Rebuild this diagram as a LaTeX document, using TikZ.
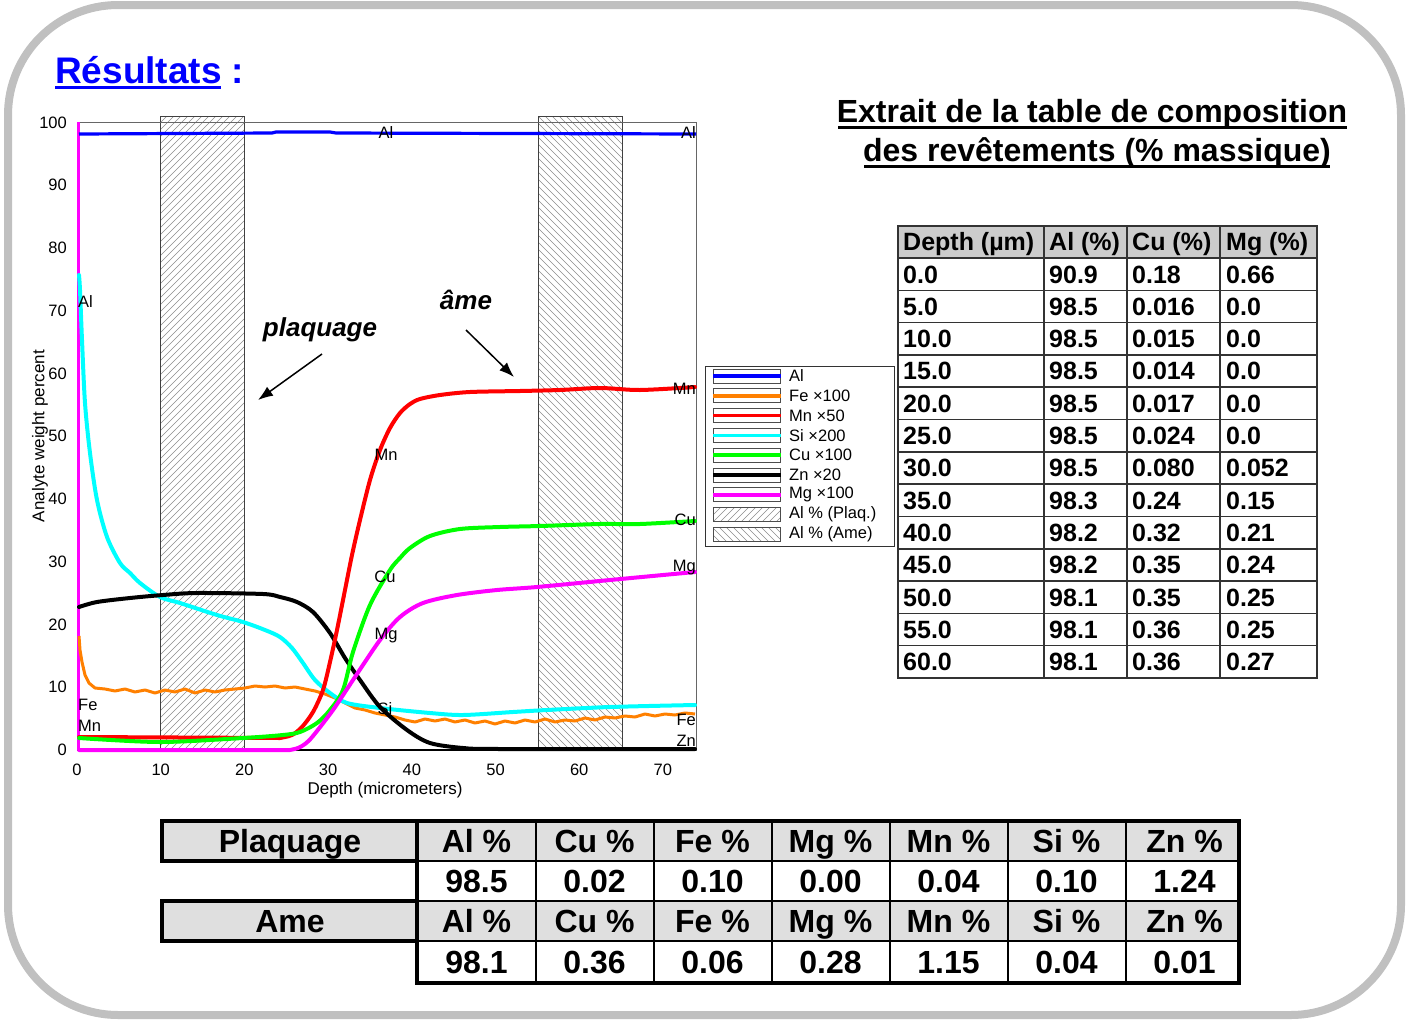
\documentclass[tikz,border=0pt]{standalone}
\usepackage{fontspec}
\setmainfont{Liberation Sans}
\usetikzlibrary{arrows.meta}
\newcommand\myfs[1]{\fontsize{#1}{#1}\selectfont}
\definecolor{feorange}{HTML}{FF8000}
\definecolor{framegray}{HTML}{C0C0C0}
\definecolor{hatchgray}{HTML}{8C8C8C}
\definecolor{alblue}{HTML}{0000FF}
\definecolor{sicyan}{HTML}{00FFFF}
\definecolor{mgmag}{HTML}{FF00FF}
\definecolor{cugreen}{HTML}{00FF00}
\definecolor{mnred}{HTML}{FF0000}
\begin{document}
\begin{tikzpicture}[x=1pt,y=-1pt,
  hatchln/.style={hatchgray,line width=0.6},
  hbox/.style={draw=black!75,line width=0.9},
  curve/.style={line width=4,line join=round,line cap=round},
  ticklbl/.style={font=\myfs{16.5},inner sep=0},
  plbl/.style={font=\myfs{16.5},inner sep=0},
  legtxt/.style={font=\myfs{16.5},inner sep=0,anchor=west},
  tline/.style={black!80,line width=1.6},
  tcell/.style={font=\myfs{25}\bfseries,inner sep=0,anchor=base west},
  bcell/.style={font=\myfs{32}\bfseries,inner sep=0,anchor=base},
  thickln/.style={black,line width=4},
  thinln/.style={black,line width=2},
  anno/.style={font=\myfs{26}\bfseries\itshape,inner sep=0},
  annoarrow/.style={line width=1.5,-{Latex[length=15,width=11]}}
]
\useasboundingbox (0,0) rectangle (1409,1020);
\fill[white] (0,0) rectangle (1409,1020);
\draw[framegray,line width=8,rounded corners=110] (8,5) rectangle (1401,1015);

% Title
\node[anchor=base west,inner sep=0,text=alblue,font=\myfs{37}\bfseries] (title) at (55,83) {Résultats :};
\draw[alblue,line width=3] (55,87.5) -- (221,87.5);

% ---------- chart ----------
\begin{scope}
\clip (160,116) rectangle (244,750);
\foreach \c in {276,283,...,1000} \draw[hatchln] (\c-750,750) -- (\c-116,116);
\end{scope}
\draw[hbox] (160,116) rectangle (244,750);
\begin{scope}
\clip (538,116) rectangle (622,750);
\foreach \c in {-215,-208,...,510} \draw[hatchln] (\c+116,116) -- (\c+750,750);
\end{scope}
\draw[hbox] (538,116) rectangle (622,750);

% frame
\draw[black!60,line width=1] (77,122) rectangle (696,750);
\draw[black,line width=2] (77,750) -- (696,750);

% tick labels
\foreach \v [count=\k from 0] in {0,10,...,100}
  \node[ticklbl,anchor=east] (yt\k) at (67,{750-6.275*\v}) {\v};
\foreach \v [count=\k from 0] in {0,10,...,70}
  \node[ticklbl] (xt\k) at ({77+8.37*\v},770) {\v};
\node[font=\myfs{17},inner sep=0,rotate=90] (ylab) at (40,436) {Analyte weight percent};
\node[font=\myfs{17},inner sep=0] (xlab) at (385,790) {Depth (micrometers)};

% curves
\draw[mgmag,line width=3] (78,750) -- (78,122);
\draw[alblue,line width=3.2] (79,134) -- (272,133) -- (276,132) -- (330,132) -- (336,133) -- (696,134);
\draw[feorange,line width=3,line join=round] plot coordinates {(79,636) (80,650) (82,662) (85,675) (89,683) (95,688) (105,689) (115,691) (125,689) (135,692) (145,690) (155,693) (165,690) (175,692) (185,689) (195,693) (205,690) (215,692) (225,690) (235,689) (245,688) (255,686) (265,687) (275,686) (285,688) (295,687) (305,689) (315,691) (325,694) (335,698) (345,703) (355,708) (365,710) (375,713) (385,715) (395,717) (405,720) (415,722) (425,719) (435,721) (445,719) (455,722) (465,720) (475,723) (485,721) (495,724) (505,721) (515,723) (525,720) (535,722) (545,719) (555,722) (565,720) (575,721) (585,718) (595,720) (605,717) (615,718) (625,716) (635,717) (645,714) (655,716) (665,714) (675,715) (685,713) (695,714)};
\draw[sicyan,curve] plot[smooth,tension=0.5] coordinates {(79,275) (80,290) (82,340) (85,403) (90,453) (97,500) (107,537) (120,563) (130,573) (140,583) (160,597) (180,603) (217,615) (243,622) (265,630) (280,637) (292,648) (303,663) (315,680) (330,693) (347,703) (380,708) (430,713) (463,715) (513,712) (547,710) (610,707) (695,705)};
\draw[black,curve] plot[smooth,tension=0.5] coordinates {(79,607) (97,602) (130,598) (163,595) (197,593) (263,594) (280,597) (297,602) (313,612) (330,633) (345,658) (360,680) (380,707) (407,730) (430,743) (463,748) (500,749) (695,749)};
\draw[mnred,curve] (79,737) -- (280,738) -- plot[smooth,tension=0.5] coordinates {(280,738) (292,735) (302,727) (313,712) (323,690) (330,662) (337,630) (345,590) (352,555) (360,520) (370,480) (380,450) (390,428) (400,413) (410,404) (420,399) (440,395) (470,392) (520,391) (560,390) (600,388) (640,390) (695,387)};
\draw[cugreen,curve] plot[smooth,tension=0.5] coordinates {(79,738) (160,742) (243,738) (283,735) (300,732) (317,723) (330,710) (343,690) (353,652) (370,605) (390,570) (400,558) (410,548) (430,536) (460,529) (500,527) (540,526) (600,524) (640,524) (695,521)};
\draw[mgmag,curve] (79,750) -- (290,750) -- plot[smooth,tension=0.5] coordinates {(290,750) (298,748) (305,744) (313,736) (333,710) (353,680) (380,640) (400,617) (423,603) (457,595) (497,590) (537,587) (610,580) (695,572)};

% curve labels
\node[plbl] (lAl1) at (386,133) {Al};
\node[plbl,anchor=east] (lAl2) at (696,133) {Al};
\node[plbl,anchor=west] (lAl3) at (78,302) {Al};
\node[plbl] (lMn1) at (386,455) {Mn};
\node[plbl] (lCu1) at (385,577) {Cu};
\node[plbl] (lMg1) at (386,636) {Mg};
\node[plbl] (lSi1) at (385,709) {Si};
\node[plbl,anchor=east] (lMn2) at (696,389) {Mn};
\node[plbl,anchor=east] (lCu2) at (696,520) {Cu};
\node[plbl,anchor=east] (lMg2) at (696,568) {Mg};
\node[plbl,anchor=east] (lFe2) at (696,720) {Fe};
\node[plbl,anchor=east] (lZn2) at (696,741) {Zn};
\node[plbl,anchor=west] (lFe1) at (78,705) {Fe};
\node[plbl,anchor=west] (lMn3) at (78,726) {Mn};

% annotations
\node[anno] (plaq) at (320,330) {plaquage};
\node[anno] (ame) at (466,300) {âme};
\coordinate (pa1) at (322,354);
\coordinate (pa2) at (258,400);
\coordinate (aa1) at (466,330);
\coordinate (aa2) at (514,377);
\draw[annoarrow] (pa1) -- (pa2);
\draw[annoarrow] (aa1) -- (aa2);

% legend
\draw[black!80,line width=1] (705,366) rectangle (894,546);
\foreach \col/\txt [count=\i from 0] in {alblue/Al,feorange/Fe ×100,mnred/Mn ×50,sicyan/Si ×200,cugreen/Cu ×100,black/Zn ×20,mgmag/Mg ×100} {
  \draw[black!70,line width=0.8] (713,{376+19.8*\i-7}) rectangle (780,{376+19.8*\i+7});
  \draw[\col,line width=3.5] (713,{376+19.8*\i}) -- (781,{376+19.8*\i});
  \node[legtxt] (leg\i) at (789,{376+19.8*\i}) {\txt};
}
\begin{scope}
\clip (713,{376+19.8*7-7}) rectangle (780,{376+19.8*7+7});
\foreach \c in {1200,1207,...,1320} \draw[hatchln] (\c-600,600) -- (\c-400,400);
\end{scope}
\draw[black!70,line width=0.8] (713,{376+19.8*7-7}) rectangle (780,{376+19.8*7+7});
\node[legtxt] (leg7) at (789,{376+19.8*7}) {Al \% (Plaq.)};
\begin{scope}
\clip (713,{376+19.8*8-7}) rectangle (780,{376+19.8*8+7});
\foreach \c in {150,157,...,270} \draw[hatchln] (\c+400,400) -- (\c+600,600);
\end{scope}
\draw[black!70,line width=0.8] (713,{376+19.8*8-7}) rectangle (780,{376+19.8*8+7});
\node[legtxt] (leg8) at (789,{376+19.8*8}) {Al \% (Ame)};

% ---------- right title ----------
\node[anchor=base,inner sep=0,font=\myfs{32}\bfseries] (tt1) at (1092,122) {Extrait de la table de composition};
\node[anchor=base,inner sep=0,font=\myfs{32}\bfseries] (tt2) at (1097,161) {des revêtements (\% massique)};
\draw[black,line width=3] (838,127) -- (1347,127);
\draw[black,line width=3] (864,166) -- (1330,166);

% ---------- right table ----------
\fill[gray!40] (898,226) rectangle (1317,258);
\foreach \k in {0,...,12} \draw[tline] (898,{258+32.3*\k}) -- (1317,{258+32.3*\k});
\foreach \x in {1044,1127,1220} \draw[tline] (\x,226) -- (\x,678);
\draw[tline] (898,226) rectangle (1317,678);
\node[tcell] (h0) at (903,250.5) {Depth (µm)};
\node[tcell] (h1) at (1049,250.5) {Al (\%)};
\node[tcell] (h2) at (1132,250.5) {Cu (\%)};
\node[tcell] (h3) at (1226,250.5) {Mg (\%)};
\foreach \a/\b/\c/\d [count=\i from 0] in {0.0/90.9/0.18/0.66,5.0/98.5/0.016/0.0,10.0/98.5/0.015/0.0,15.0/98.5/0.014/0.0,20.0/98.5/0.017/0.0,25.0/98.5/0.024/0.0,30.0/98.5/0.080/0.052,35.0/98.3/0.24/0.15,40.0/98.2/0.32/0.21,45.0/98.2/0.35/0.24,50.0/98.1/0.35/0.25,55.0/98.1/0.36/0.25,60.0/98.1/0.36/0.27} {
  \node[tcell] (ra\i) at (903,{283+32.3*\i}) {\a};
  \node[tcell] (rb\i) at (1049,{283+32.3*\i}) {\b};
  \node[tcell] (rc\i) at (1132,{283+32.3*\i}) {\c};
  \node[tcell] (rd\i) at (1226,{283+32.3*\i}) {\d};
}

% ---------- bottom table ----------
\fill[gray!25] (162,821) rectangle (1239,861);
\fill[gray!25] (162,901) rectangle (1239,941);
\draw[thinln] (417,861) -- (1239,861);
\draw[thinln] (417,901) -- (1239,901);
\draw[thinln] (417,941) -- (1239,941);
\foreach \x in {536,654,772,890,1008,1126} \draw[thinln] (\x,821) -- (\x,983);
\draw[thickln] (162,821) rectangle (417,861);
\draw[thickln] (162,901) rectangle (417,941);
\draw[thickln] (417,821) rectangle (1239,983);
\node[bcell] (bp) at (290,852) {Plaquage};
\node[bcell] (ba) at (290,932) {Ame};
\foreach \h/\v/\w [count=\i from 0] in {Al/98.5/98.1,Cu/0.02/0.36,Fe/0.10/0.06,Mg/0.00/0.28,Mn/0.04/1.15,Si/0.10/0.04,Zn/1.24/0.01} {
  \node[bcell] (bh\i) at ({476.5+118*\i},852) {\h\ \%};
  \node[bcell] (bv\i) at ({476.5+118*\i},892) {\v};
  \node[bcell] (bk\i) at ({476.5+118*\i},932) {\h\ \%};
  \node[bcell] (bw\i) at ({476.5+118*\i},973) {\w};
}
\end{tikzpicture}
\end{document}
